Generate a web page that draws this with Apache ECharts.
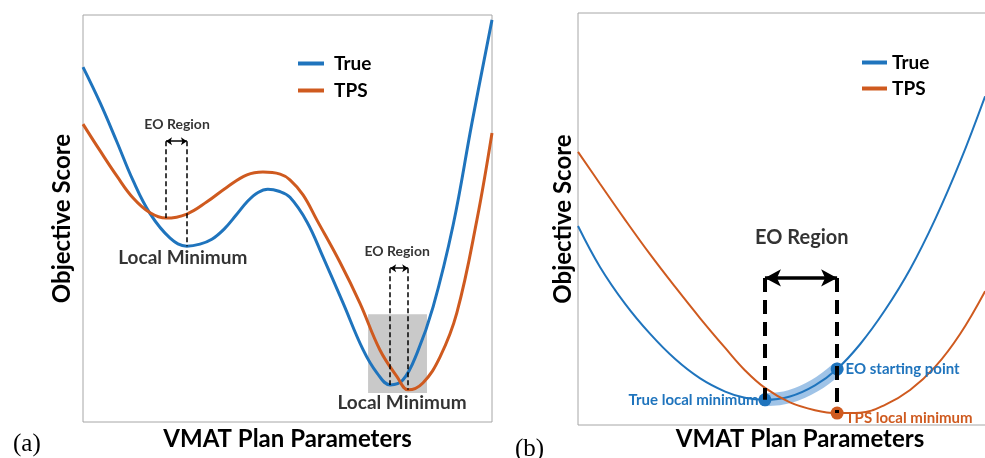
<!DOCTYPE html>
<html>
<head>
<meta charset="utf-8">
<script src="https://cdn.jsdelivr.net/npm/echarts@6/dist/echarts.min.js"></script>
<style>
  html, body { margin: 0; padding: 0; background: #fff; }
  #chart { width: 985px; height: 458px; }
</style>
</head>
<body>
<div id="chart"></div>
<script>
// ---- Panel (a): landscape with two local minima (plot units 0–100) ----
const aTrue = [[0,87.2],[4.2,78.4],[8.3,68.8],[12.2,59.4],[16.4,51.2],[21.3,45.2],[25.4,43.2],[28.6,43.7],[31.5,44.9],[34.5,47.4],[37.4,50.8],[40.3,54.3],[42.8,56.4],[45.2,57.2],[47.9,56.7],[50.6,55.2],[54.8,49.1],[58.7,40.5],[63.6,29.2],[68.5,17.7],[71.9,12.0],[75.1,9.1],[78.2,10.3],[81.7,17.0],[85.6,28.3],[90.5,48.4],[95.1,73.5],[100,98.8]];
const aTps  = [[0,73.2],[4.2,66.6],[8.3,60.4],[12.2,55.1],[16.4,51.4],[20.3,50.1],[25.4,51.1],[30.3,54.1],[35.2,57.7],[40.1,60.7],[44.0,61.4],[48.2,60.9],[50.6,59.5],[53.8,55.8],[57.2,49.6],[62.8,39.3],[67.7,29.2],[72.6,17.7],[76.8,11.1],[79.5,7.9],[83.1,9.6],[87.3,16.0],[91.4,26.8],[96.3,49.6],[100,71.0]];
// EO regions: left minimum, right minimum, arrow height
const aRegions = [
  { left: [20.3, 50.1], right: [25.4, 43.2], top: 69.0 },
  { left: [75.1, 9.1],  right: [79.5, 7.9],  top: 37.8 }
];
const aRegionTags = [[23.0, 73.0], [76.8, 41.8]];
const aMinTags = [[24.4, 40.3], [78.0, 4.7]];
const aZoomBox = [[69.7, 26.5], [84.1, 7.1]];

// ---- Panel (b): close-up around the lower minimum ----
const bTrue = [[0,48.3],[5.4,38.3],[11.5,29.4],[17.6,22.1],[23.7,16.0],[29.8,11.3],[35.9,8.1],[40.7,6.6],[45.6,6.1],[51.7,6.9],[57.8,9.6],[63.2,13.6],[68.8,19.6],[74.9,27.9],[81.0,37.8],[87.1,49.9],[93.2,63.9],[99.3,79.8]];
const bTps  = [[0,66.3],[5.4,58.5],[11.5,49.8],[17.6,41.4],[23.7,33.5],[29.8,25.9],[35.9,18.7],[40.7,13.3],[45.6,9.0],[51.7,5.5],[57.8,3.6],[63.2,2.9],[68.8,3.0],[74.9,4.9],[81.0,8.5],[87.1,14.1],[93.2,22.1],[99.3,32.5]];
const bTrueMin = [45.6, 6.1];
const bEoStart = [63.2, 13.6];
const bTpsMin  = [63.2, 2.9];
const bArrowY = 35.7;
const bRegionTag = [54.6, 45.4];

const BLUE = '#1f74bd';
const ORANGE = '#cf5a1f';
const FONT = 'Lato';

function hiddenAxis(extra) {
  return Object.assign({
    type: 'value',
    axisLine: { show: false }, axisTick: { show: false },
    axisLabel: { show: false }, splitLine: { show: false }
  }, extra);
}
const titleStyle = { fontFamily: FONT, fontWeight: 'bold', fontSize: 24, color: '#000' };

function seg(p, q) { return [{ coord: p }, { coord: q }]; }

const aDashed = [];
const aArrows = [];
aRegions.forEach(r => {
  aDashed.push(seg([r.left[0], r.top], r.left));
  aDashed.push(seg([r.right[0], r.top], r.right));
  aArrows.push(seg([r.left[0], r.top], [r.right[0], r.top]));
});

const bBand = bTrue.filter(p => p[0] >= bTrueMin[0] && p[0] <= bEoStart[0]);

const chart = echarts.init(document.getElementById('chart'), null, { renderer: 'canvas' });
chart.setOption({
  animation: false,
  backgroundColor: '#fff',
  title: [
    { text: '(a)', left: 8, top: 427, textStyle: { fontFamily: 'Liberation Serif', fontWeight: 'normal', fontSize: 25, color: '#000' } },
    { text: '(b)', left: 510, top: 432, textStyle: { fontFamily: 'Liberation Serif', fontWeight: 'normal', fontSize: 25, color: '#000' } }
  ],
  legend: [
    { data: [{ name: 'True', icon: 'rect' }, { name: 'TPS', icon: 'rect' }], orient: 'vertical',
      left: 293, top: 48, itemWidth: 26, itemHeight: 4, itemGap: 6, selectedMode: false,
      textStyle: { fontFamily: FONT, fontWeight: 'bold', fontSize: 19, lineHeight: 21, color: '#000', padding: [0, 0, 0, 5] } },
    { data: [{ name: 'True', icon: 'rect' }, { name: 'TPS', icon: 'rect' }], orient: 'vertical',
      left: 857, top: 47, itemWidth: 25, itemHeight: 4, itemGap: 5, selectedMode: false,
      textStyle: { fontFamily: FONT, fontWeight: 'bold', fontSize: 19, lineHeight: 21, color: '#000', padding: [0, 0, 0, 0] } }
  ],
  grid: [
    { left: 83, top: 15, width: 409, height: 407, outerBoundsMode: 'none',
      show: true, borderColor: '#a6a6a6', borderWidth: 1, backgroundColor: '#fff' },
    { left: 578, top: 13, width: 444, height: 412, outerBoundsMode: 'none',
      show: true, borderColor: '#a6a6a6', borderWidth: 1, backgroundColor: '#fff' }
  ],
  xAxis: [
    hiddenAxis({ gridIndex: 0, min: 0, max: 100, name: 'VMAT Plan Parameters', nameLocation: 'middle', nameGap: 5, nameTextStyle: titleStyle }),
    hiddenAxis({ gridIndex: 1, min: 0, max: 108.3, name: 'VMAT Plan Parameters', nameLocation: 'middle', nameGap: 2, nameTextStyle: titleStyle })
  ],
  yAxis: [
    hiddenAxis({ gridIndex: 0, min: 0, max: 100, name: 'Objective Score', nameLocation: 'middle', nameGap: 9, nameTextStyle: titleStyle }),
    hiddenAxis({ gridIndex: 1, min: 0, max: 100, name: 'Objective Score', nameLocation: 'middle', nameGap: 3, nameTextStyle: titleStyle })
  ],
  series: [
    // shaded zoom area behind the lower minimum
    { type: 'line', xAxisIndex: 0, yAxisIndex: 0, data: [], z: 1, silent: true,
      markArea: { silent: true, itemStyle: { color: '#c9c9c9', opacity: 1 },
        data: [[{ coord: aZoomBox[0] }, { coord: aZoomBox[1] }]] } },
    { name: 'True', type: 'line', xAxisIndex: 0, yAxisIndex: 0, data: aTrue, smooth: 0.4, showSymbol: false, symbol: 'none',
      color: BLUE, lineStyle: { color: BLUE, width: 3 }, z: 2 },
    { name: 'TPS', type: 'line', xAxisIndex: 0, yAxisIndex: 0, data: aTps, smooth: 0.4, showSymbol: false, symbol: 'none',
      color: ORANGE, lineStyle: { color: ORANGE, width: 3 }, z: 2 },
    { type: 'line', xAxisIndex: 0, yAxisIndex: 0, data: [], z: 4, silent: true,
      markLine: { silent: true, symbol: 'none', label: { show: false },
        lineStyle: { color: '#000', width: 1.5, type: [5, 3] }, data: aDashed } },
    { type: 'line', xAxisIndex: 0, yAxisIndex: 0, data: [], z: 4, silent: true,
      markLine: { silent: true, symbol: ['arrow', 'arrow'], symbolSize: [6, 6], label: { show: false },
        lineStyle: { color: '#000', width: 1.5, type: 'solid' }, data: aArrows } },
    { type: 'scatter', xAxisIndex: 0, yAxisIndex: 0, data: aRegionTags.map(p => ({ name: 'EO Region', value: p })),
      symbolSize: 1, itemStyle: { color: 'transparent' }, silent: true, z: 5,
      label: { show: true, position: 'inside', formatter: '{b}', fontFamily: FONT, fontWeight: 'bold', fontSize: 14, color: '#000' } },
    { type: 'scatter', xAxisIndex: 0, yAxisIndex: 0, data: aMinTags.map(p => ({ name: 'Local Minimum', value: p })),
      symbolSize: 1, itemStyle: { color: 'transparent' }, silent: true, z: 5,
      label: { show: true, position: 'inside', formatter: '{b}', fontFamily: FONT, fontWeight: 'bold', fontSize: 19, color: '#000' } },

    // ---- panel (b) ----
    { type: 'line', xAxisIndex: 1, yAxisIndex: 1, data: bBand, smooth: 0.4, showSymbol: false, symbol: 'none', silent: true,
      lineStyle: { color: 'rgba(95,155,215,0.6)', width: 13, cap: 'round' }, z: 1 },
    { name: 'True', type: 'line', xAxisIndex: 1, yAxisIndex: 1, data: bTrue, smooth: 0.4, showSymbol: false, symbol: 'none',
      color: BLUE, lineStyle: { color: BLUE, width: 2 }, z: 2 },
    { name: 'TPS', type: 'line', xAxisIndex: 1, yAxisIndex: 1, data: bTps, smooth: 0.4, showSymbol: false, symbol: 'none',
      color: ORANGE, lineStyle: { color: ORANGE, width: 2 }, z: 2 },
    { type: 'scatter', xAxisIndex: 1, yAxisIndex: 1, symbolSize: 13, silent: true, z: 3,
      itemStyle: { color: BLUE, opacity: 1 },
      label: { show: true, fontFamily: FONT, fontWeight: 'bold', fontSize: 15, color: BLUE, formatter: '{b}' },
      data: [
        { name: 'True local minimum', value: bTrueMin, label: { position: 'left', distance: 0 } },
        { name: 'EO starting point', value: bEoStart, label: { position: 'right', distance: 2 } }
      ] },
    { type: 'scatter', xAxisIndex: 1, yAxisIndex: 1, symbolSize: 13, silent: true, z: 3,
      itemStyle: { color: ORANGE, opacity: 1 },
      label: { show: true, fontFamily: FONT, fontWeight: 'bold', fontSize: 15, color: ORANGE, formatter: '{b}' },
      data: [{ name: 'TPS local minimum', value: bTpsMin, label: { position: 'right', distance: 2, offset: [0, 5] } }] },
    { type: 'line', xAxisIndex: 1, yAxisIndex: 1, data: [], z: 4, silent: true,
      markLine: { silent: true, symbol: 'none', label: { show: false },
        lineStyle: { color: '#000', width: 4, type: [14, 8] },
        data: [seg([bTrueMin[0], bArrowY], bTrueMin), seg([bEoStart[0], bArrowY], bTpsMin)] } },
    { type: 'line', xAxisIndex: 1, yAxisIndex: 1, data: [], z: 4, silent: true,
      markLine: { silent: true, symbol: ['arrow', 'arrow'], symbolSize: [13, 16], label: { show: false },
        lineStyle: { color: '#000', width: 3.5, type: 'solid' },
        data: [seg([bTrueMin[0], bArrowY], [bEoStart[0], bArrowY])] } },
    { type: 'scatter', xAxisIndex: 1, yAxisIndex: 1, data: [{ name: 'EO Region', value: bRegionTag }],
      symbolSize: 1, itemStyle: { color: 'transparent' }, silent: true, z: 5,
      label: { show: true, position: 'inside', formatter: '{b}', fontFamily: FONT, fontWeight: 'bold', fontSize: 20, color: '#000' } }
  ]
});
</script>
</body>
</html>
